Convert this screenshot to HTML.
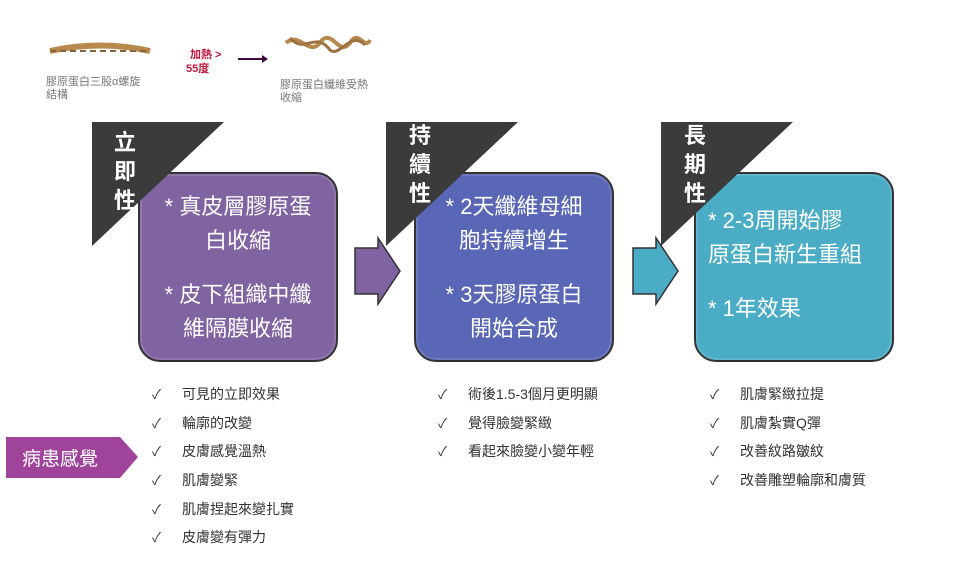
<!DOCTYPE html><html><head><meta charset="utf-8"><style>
body{margin:0;width:953px;height:576px;background:#fff;position:relative;overflow:hidden;font-family:"Liberation Sans","Noto Sans CJK TC",sans-serif}
.a{position:absolute}
.box{position:absolute;top:172px;width:200px;height:190px;border-radius:22px;border:2px solid #333;box-sizing:border-box;color:#fff;font-size:22px;line-height:34px;box-shadow:inset 0 0 0 2px rgba(255,255,255,.12)}
.tri{position:absolute;top:122px;width:132px;height:124px;background:#3b3b3b;clip-path:polygon(0 0,100% 0,0 100%)}
.tt{position:absolute;color:#fff;font-size:22px;font-weight:bold;line-height:29px;width:30px;text-align:center}
.list{position:absolute;font-size:14px;color:#333}
.list div{height:28.7px;line-height:28.7px;white-space:nowrap}
.list span{display:inline-block;width:30px;font-size:13px;line-height:14px}
.gr{color:#777;font-size:11px;line-height:13px}
</style></head><body>
<svg class="a" style="left:0;top:0" width="953" height="576">
<path d="M50 51 Q100 40 150 51" stroke="#b8894d" stroke-width="6" fill="none"/>
<path d="M50 51 L150 51" stroke="#8a6436" stroke-width="2" stroke-dasharray="6 4" fill="none"/>
<line x1="238" y1="59" x2="262" y2="59" stroke="#400a40" stroke-width="2"/><path d="M262 55 L268 59 L262 63Z" fill="#400a40"/>
<path d="M286 43 C300 30 310 60 322 40 C334 30 340 60 352 40 C360 32 365 50 370 40" stroke="#b8894d" stroke-width="4" fill="none"/>
<path d="M290 38 C305 55 315 30 330 50 C340 58 350 30 365 45" stroke="#9b7340" stroke-width="3" fill="none"/>
<path d="M355 248 L378 248 L378 238 L400 271 L378 304 L378 294 L355 294Z" fill="#8064a2" stroke="#333" stroke-width="1.5"/>
<path d="M633 248 L656 248 L656 238 L678 271 L656 304 L656 294 L633 294Z" fill="#4bacc6" stroke="#333" stroke-width="1.5"/>
<path d="M6 437 L120 437 L138 457 L120 478 L6 478Z" fill="#a0439a"/>
</svg>
<div class="a gr" style="left:46px;top:76px">膠原蛋白三股α螺旋<br>結構</div>
<div class="a gr" style="left:280px;top:79px">膠原蛋白纖維受熱<br>收縮</div>
<div class="a" style="left:190px;top:48px;color:#c0143c;font-size:11px;font-weight:bold;line-height:14px">加熱 &gt;<br><span style="margin-left:-4px">55度</span></div>
<div class="box" style="left:138px;background:#8064a2;text-align:center;padding-top:16px">* 真皮層膠原蛋<br>白收縮<div style="height:20px"></div>* 皮下組織中纖<br>維隔膜收縮</div>
<div class="box" style="left:414px;background:#5a66b6;text-align:center;padding-top:16px">* 2天纖維母細<br>胞持續增生<div style="height:20px"></div>* 3天膠原蛋白<br>開始合成</div>
<div class="box" style="left:694px;background:#4bacc6;padding:30px 0 0 12px">* 2-3周開始膠<br>原蛋白新生重組<div style="height:20px"></div>* 1年效果</div>
<div class="tri" style="left:92px"></div><div class="tt" style="left:110px;top:128px">立<br>即<br>性</div>
<div class="tri" style="left:386px"></div><div class="tt" style="left:405px;top:121px">持<br>續<br>性</div>
<div class="tri" style="left:661px"></div><div class="tt" style="left:680px;top:121px">長<br>期<br>性</div>
<div class="a" style="left:22px;top:444px;color:#fff;font-size:19px">病患感覺</div>
<div class="list" style="left:152px;top:380px"><div><span>✓</span>可見的立即效果</div><div><span>✓</span>輪廓的改變</div><div><span>✓</span>皮膚感覺溫熱</div><div><span>✓</span>肌膚變緊</div><div><span>✓</span>肌膚捏起來變扎實</div><div><span>✓</span>皮膚變有彈力</div></div>
<div class="list" style="left:438px;top:380px"><div><span>✓</span>術後1.5-3個月更明顯</div><div><span>✓</span>覺得臉變緊緻</div><div><span>✓</span>看起來臉變小變年輕</div></div>
<div class="list" style="left:710px;top:380px"><div><span>✓</span>肌膚緊緻拉提</div><div><span>✓</span>肌膚紮實Q彈</div><div><span>✓</span>改善紋路皺紋</div><div><span>✓</span>改善雕塑輪廓和膚質</div></div>
</body></html>
